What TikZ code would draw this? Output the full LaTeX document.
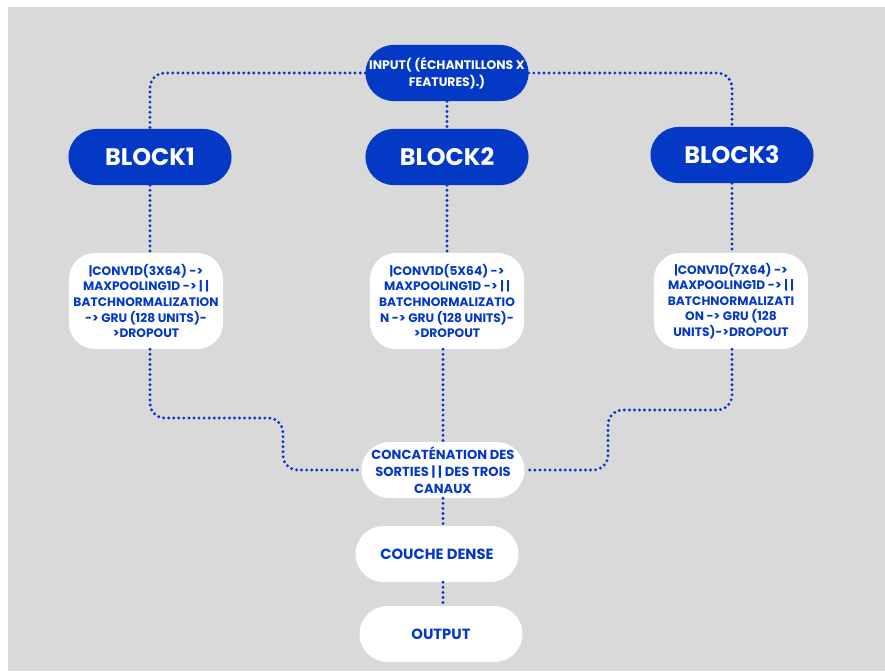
\documentclass[tikz,border=0pt]{standalone}
\usepackage{fontspec}
\setmainfont{Poppins}
\usetikzlibrary{calc}

\definecolor{netblue}{HTML}{0439C6}
\definecolor{panelgray}{HTML}{D9D9D9}

\begin{document}
\begin{tikzpicture}[x=0.025cm,y=-0.025cm]

                \tikzstyle{pill}  = [rectangle, rounded corners=0.7cm, minimum width=4.075cm, minimum height=1.4cm, inner sep=2pt, align=center]
                \tikzstyle{head}  = [pill, fill=netblue, text=white, font=\bfseries\fontsize{17}{20}\selectfont]
                \tikzstyle{entry} = [pill, fill=netblue, text=white, font=\bfseries\fontsize{8.8}{12}\selectfont]
                \tikzstyle{stage} = [pill, fill=white, text=netblue, font=\bfseries\fontsize{10.5}{12.5}\selectfont]
                \tikzstyle{stack} = [stage, rounded corners=0.65cm, minimum width=3.85cm, minimum height=2.4cm, font=\bfseries\fontsize{8.7}{11.1}\selectfont]
                \tikzstyle{link}  = [netblue, line width=2.3pt, line cap=round, dash pattern=on 0pt off 3.6pt, rounded corners=0.37cm]
                \useasboundingbox (0,0) rectangle (885,671);
                \fill [panelgray] (8,7) rectangle (885,671);
                \node [entry](input) at (447,73) {INPUT( (ÉCHANTILLONS X\\FEATURES).)};
                \node [head](b1) at (150,157) {BLOCK1};
                \node [head](b2) at (447,157) {BLOCK2};
                \node [head](b3) at (732,155) {BLOCK3};
                \node [stack](s1) at (146,301) {|CONV1D(3X64) ->\\MAXPOOLING1D -> | |\\BATCHNORMALIZATION\\-> GRU (128 UNITS)-\\>DROPOUT};
                \node [stack](s2) at (447,301) {|CONV1D(5X64) ->\\MAXPOOLING1D -> | |\\BATCHNORMALIZATIO\\N -> GRU (128 UNITS)-\\>DROPOUT};
                \node [stack](s3) at (731,301) {|CONV1D(7X64) ->\\MAXPOOLING1D -> | |\\BATCHNORMALIZATI\\ON -> GRU (128\\UNITS)->DROPOUT};
                \node [stage, font=\bfseries\fontsize{9.3}{12}\selectfont](cat) at (443,470) {CONCATÉNATION DES\\SORTIES | | DES TROIS\\CANAUX};
                \node [stage](dense) at (437,554) {COUCHE DENSE};
                \node [stage](out) at (441,634) {OUTPUT};
                \coordinate (kl) at (283,418);
                \coordinate (kr) at (608,410);
                \draw [link] (input.west) -| (b1.north);
                \draw [link] (input.east) -| (b3.north);
                \draw [link] (input.south) -- (b2.north);
                \draw [link] (b1.south) -- (b1.south |- s1.north);
                \draw [link] (b2.south) -- (s2.north);
                \draw [link] (b3.south) -- (b3.south |- s3.north);
		\draw [link] (b1.south |- s1.south) |- (kl) |- (cat.west);
		\draw [link] (b3.south |- s3.south) |- (kr) |- (cat.east);
		\draw [link] (s2.south -| cat.north) -- (cat.north);
		\draw [link] (cat.south) -- (cat.south |- dense.north);
		\draw [link] (cat.south |- dense.south) -- (cat.south |- out.north);
\end{tikzpicture}
\end{document}
